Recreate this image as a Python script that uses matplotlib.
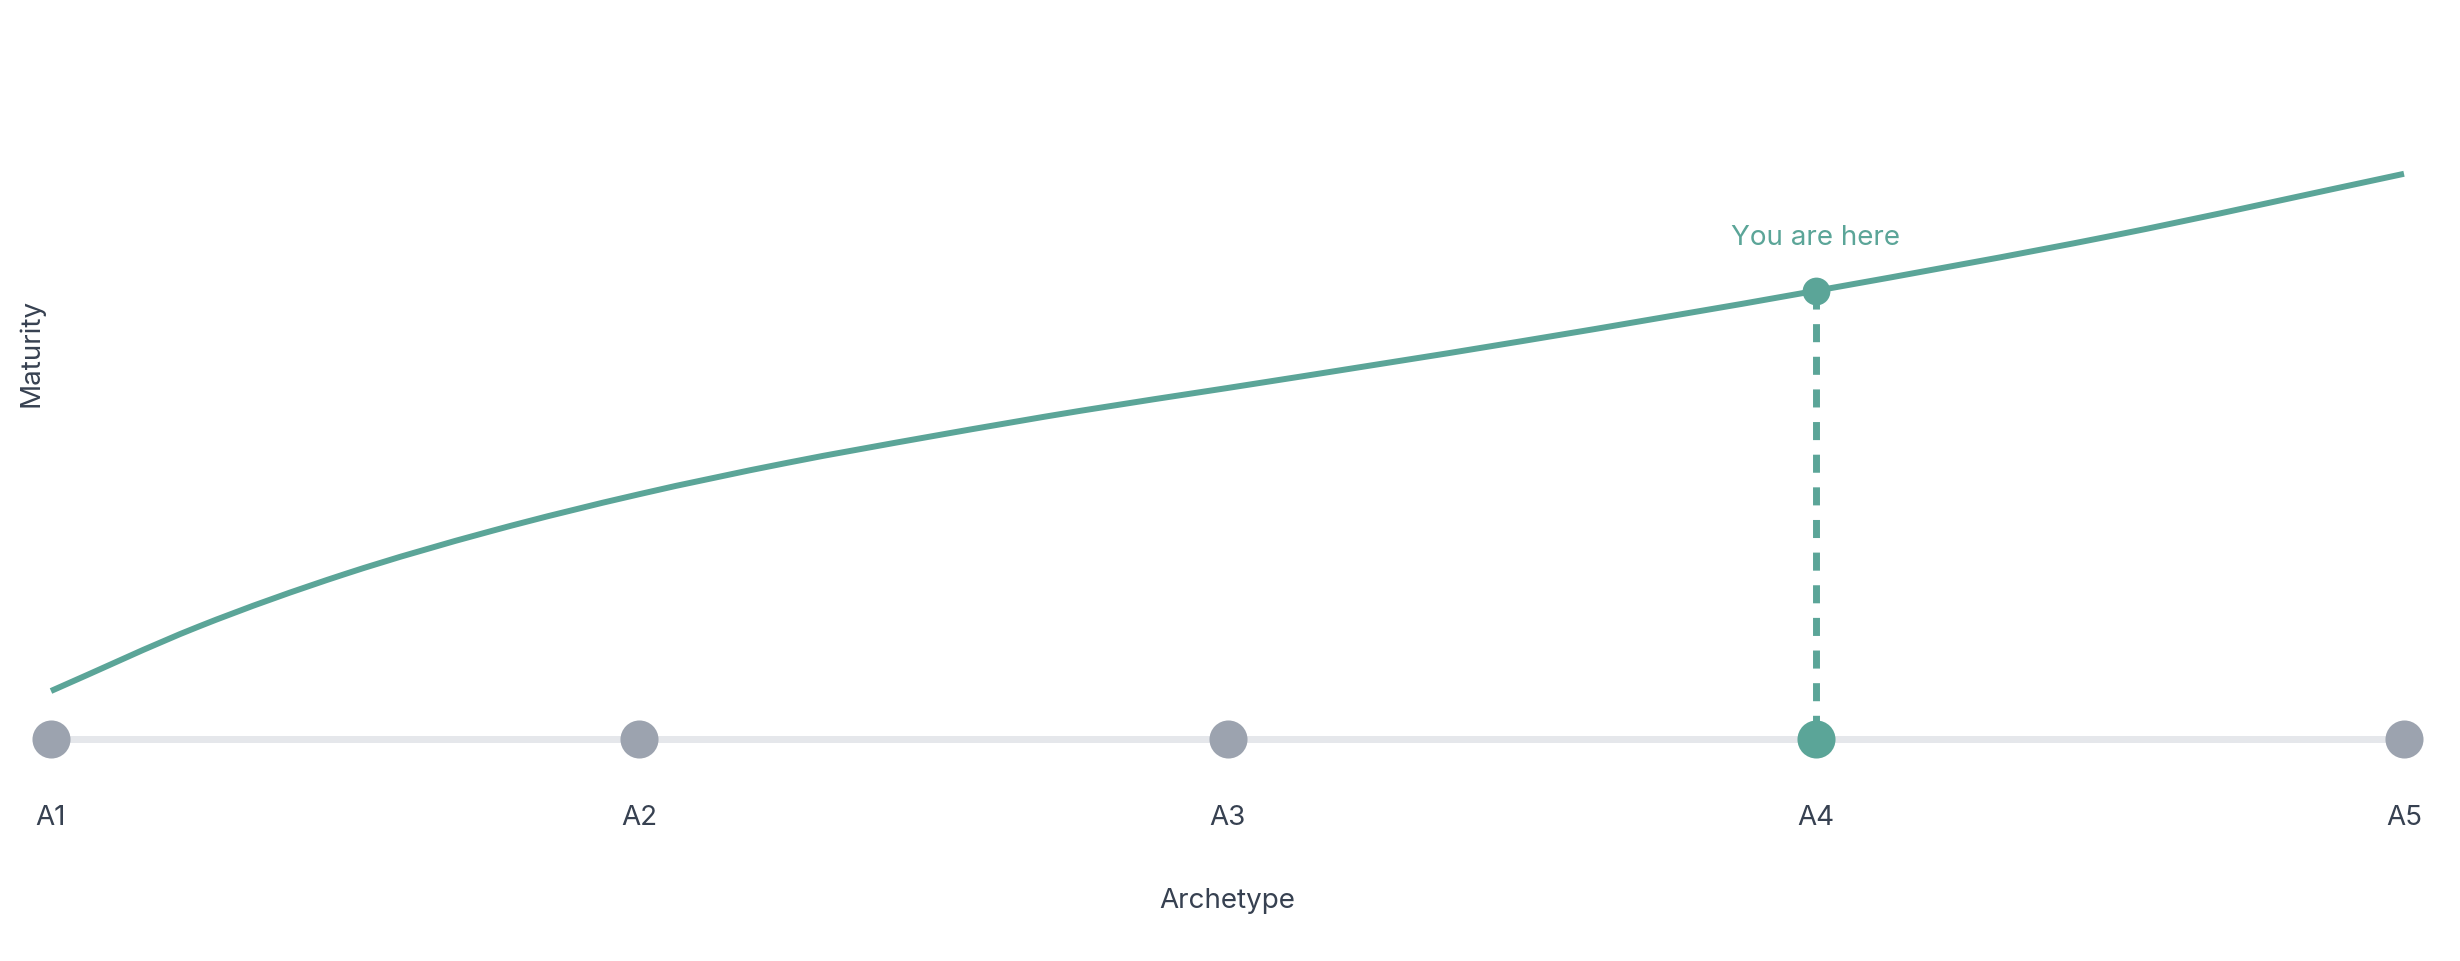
import matplotlib.pyplot as plt
from matplotlib.path import Path
from matplotlib.patches import PathPatch

# archetype positions and labels
archetypes = ["A1", "A2", "A3", "A4", "A5"]
arch_pos = [0, 1, 2, 3, 4]
current = 3  # "You are here" -> A4

# maturity curve (0-100 scale)
curve_x = [0, 0.25, 0.5, 0.75, 1, 1.25, 1.5, 1.75, 2, 2.5, 3, 3.5, 4]
curve_y = [8.0, 18.7, 27.5, 34.7, 40.8, 46.0, 50.5, 54.7, 58.5, 66.3, 74.7, 83.8, 94.2]
current_maturity = 74.7

TEAL = "#5BA598"
GRAY_DOT = "#9CA3AF"
GRAY_LINE = "#E5E7EB"
TEXT = "#374151"

plt.rcParams['font.family'] = ['Inter', 'DejaVu Sans']

W, H = 2460, 962
fig = plt.figure(figsize=(W / 100, H / 100), dpi=100)
x0, x1, ybase, ytop = 51, 2404, 740, 140
ax = fig.add_axes([x0 / W, (H - ybase) / H, (x1 - x0) / W, (ybase - ytop) / H])
ax.set_xlim(0, 4)
ax.set_ylim(0, 100)

# baseline track
ax.plot([arch_pos[0], arch_pos[-1]], [0, 0], color=GRAY_LINE, lw=5,
        solid_capstyle='butt', zorder=1, clip_on=False)

# maturity curve: smooth cubic segments through the read points
n = len(curve_x)
slopes = []
for i in range(n):
    if i == 0 or i == n - 1:
        a, b = max(i - 1, 0), min(i + 1, n - 1)
        slopes.append((curve_y[b] - curve_y[a]) / (curve_x[b] - curve_x[a]))
        continue
    h0, h1 = curve_x[i] - curve_x[i - 1], curve_x[i + 1] - curve_x[i]
    s0 = (curve_y[i] - curve_y[i - 1]) / h0
    s1 = (curve_y[i + 1] - curve_y[i]) / h1
    slopes.append((s0 * h1 + s1 * h0) / (h0 + h1))
verts = [(curve_x[0], curve_y[0])]
codes = [Path.MOVETO]
for i in range(n - 1):
    h = curve_x[i + 1] - curve_x[i]
    verts += [(curve_x[i] + h / 3, curve_y[i] + slopes[i] * h / 3),
              (curve_x[i + 1] - h / 3, curve_y[i + 1] - slopes[i + 1] * h / 3),
              (curve_x[i + 1], curve_y[i + 1])]
    codes += [Path.CURVE4] * 3
ax.add_patch(PathPatch(Path(verts, codes), facecolor='none', edgecolor=TEAL,
                       lw=4.3, capstyle='butt', zorder=3, clip_on=False))

# dashed drop line to the current archetype
ax.plot([current, current], [current_maturity, 0], color=TEAL, lw=5,
        linestyle=(0, (2.6, 2.1)), dash_capstyle='butt', zorder=2, clip_on=False)

# archetype dots
for p in arch_pos:
    c = TEAL if p == current else GRAY_DOT
    ax.plot(p, 0, 'o', color=c, markersize=27.4, markeredgewidth=0,
            zorder=4, clip_on=False)

ax.plot(current, current_maturity, 'o', color=TEAL, markersize=20,
        markeredgewidth=0, zorder=5, clip_on=False)
ax.text(current, current_maturity + (292 - 238) / 6, "You are here", color=TEAL,
        fontsize=20, ha='center', va='center')

ax.set_xticks(arch_pos)
ax.set_xticklabels(archetypes, fontsize=20, color=TEXT)
ax.tick_params(axis='x', length=0, pad=47)
ax.set_yticks([])
for s in ax.spines.values():
    s.set_visible(False)

ax.set_xlabel("Archetype", fontsize=20, color=TEXT, va='center')
ax.xaxis.set_label_coords(0.5, -(901 - ybase) / (ybase - ytop))
ax.set_ylabel("Maturity", fontsize=20, color=TEXT, va='center')
ax.yaxis.set_label_coords(-(x0 - 31) / (x1 - x0), (ybase - 353) / (ybase - ytop))

fig.savefig("out.png", dpi=100)
